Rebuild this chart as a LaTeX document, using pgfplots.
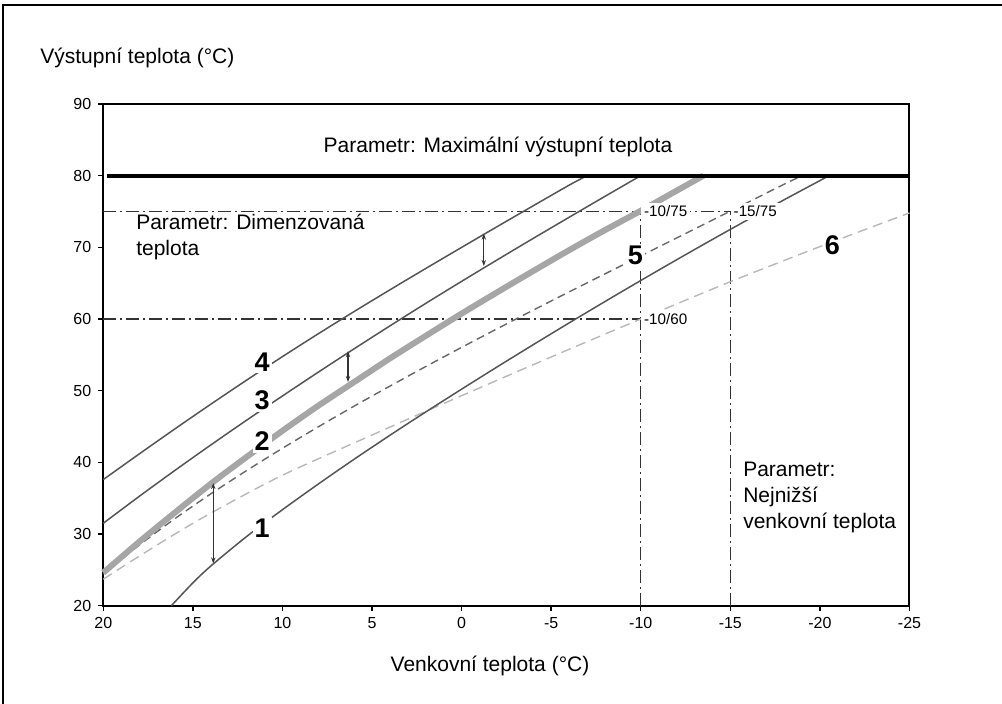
\documentclass[border=0pt]{standalone}
\usepackage{fontspec}
\setmainfont{Liberation Sans}
\usepackage{pgfplots}
\pgfplotsset{compat=1.18}
\usetikzlibrary{arrows.meta}
\definecolor{cSolid}{HTML}{555555}
\definecolor{cThick}{HTML}{A6A6A6}
\definecolor{cDashDark}{HTML}{666666}
\definecolor{cDashLight}{HTML}{B8B8B8}
\definecolor{cRef}{HTML}{333333}
\tikzset{
  refl/.style={cRef, line width=0.65pt, dash pattern=on 6.5pt off 2pt on 1pt off 2pt},
  numlab/.style={font=\fontsize{13.5}{15}\selectfont\bfseries, fill=white, inner sep=1pt},
  parlab/.style={font=\fontsize{10.5}{12}\selectfont, anchor=base west, inner sep=0pt},
  smalllab/.style={font=\fontsize{7.6}{9}\selectfont, fill=white, anchor=west, inner sep=1.5pt},
  dbl/.style={cRef, line width=0.6pt, {Stealth[length=3pt,width=2.2pt]}-{Stealth[length=3pt,width=2.2pt]}},
}
\begin{document}
\begin{tikzpicture}[x=1pt,y=1pt]
\useasboundingbox (0,0) rectangle (501,352);
\draw[line width=0.8pt] (1.5,0) -- (1.5,349.5) -- (501,349.5);
\node[anchor=base west,font=\fontsize{10.5}{12}\selectfont,inner sep=0pt] at (20,320) {Výstupní teplota (°C)};
\node[anchor=base,font=\fontsize{10.5}{12}\selectfont,inner sep=0pt] at (245,16.2) {Venkovní teplota (°C)};
\begin{axis}[
  at={(51.65pt,49.15pt)}, anchor=south west,
  scale only axis, width=403.1pt, height=250.85pt,
  x dir=reverse, xmin=-25, xmax=20, ymin=20, ymax=90,
  xtick={20,15,10,5,0,-5,-10,-15,-20,-25},
  xticklabels={20,15,10,5,0,-5,-10,-15,-20,-25},
  ytick={20,30,40,50,60,70,80,90},
  yticklabels={20,30,40,50,60,70,80,90},
  tick align=outside, major tick length=2.5pt, tick pos=left,
  axis line style={line width=1pt},
  tick style={line width=0.7pt, black},
  tick label style={font=\fontsize{8}{9.5}\selectfont},
  /pgf/number format/assume math mode=true,
  clip=false,
]
% reference lines
\addplot[refl] coordinates {(20,75) (-15,75)};
\addplot[refl] coordinates {(20,60) (-10,60)};
\addplot[refl] coordinates {(-10,20) (-10,75)};
\addplot[refl] coordinates {(-15,20) (-15,75)};
% curve 6 (light dashed)
\addplot[cDashLight, line width=0.7pt, dash pattern=on 5pt off 3pt, smooth] coordinates {
(20,23.7) (18,26.9) (16,30.0) (13.86,33.1) (10,38.2) (4.56,44.3) (0,49.3) (-5,54.7) (-10,60) (-15,65.2) (-20,70.1) (-25,74.8)};
% curve 5 (dark dashed)
\addplot[cDashDark, line width=0.7pt, dash pattern=on 4pt off 2.5pt, smooth] coordinates {
(20,24.4) (18,28.43) (16,32.15) (14,35.6) (12,38.85) (10,41.96) (8,44.95) (6,47.84) (4,50.64) (2,53.37) (0,56.04) (-2,58.66) (-4,61.24) (-6,63.78) (-8,66.29) (-10,68.8) (-12,71.3) (-14,73.8) (-16,76.3) (-18,78.8) (-19,80)};
% curve 1
\addplot[cSolid, line width=0.75pt, smooth] coordinates {
(16.2,20) (15,23.18) (14,25.53) (12,29.65) (10,33.39) (8,36.97) (6,40.43) (4,43.78) (2,47.03) (0,50.21) (-2,53.34) (-4,56.42) (-6,59.45) (-8,62.43) (-10,65.37) (-12,68.26) (-14,71.1) (-16,73.89) (-18,76.63) (-20,79.31) (-20.5,80)};
% curve 3
\addplot[cSolid, line width=0.75pt, smooth] coordinates {
(20,31.5) (18,35.24) (16,38.88) (14,42.42) (12,45.88) (10,49.26) (8,52.58) (6,55.84) (4,59.04) (2,62.18) (0,65.25) (-2,68.27) (-4,71.25) (-6,74.19) (-8,77.11) (-10,80)};
% curve 4
\addplot[cSolid, line width=0.75pt, smooth] coordinates {
(20,37.6) (18,41.16) (16,44.67) (14,48.11) (12,51.47) (10,54.75) (8,57.94) (6,61.04) (4,64.07) (2,67.05) (0,69.99) (-2,72.91) (-4,75.8) (-6,78.67) (-7,80)};
% curve 2 (thick light gray)
\addplot[cThick, line width=3pt, smooth] coordinates {
(20,24.6) (18,28.9) (16,33.0) (14,37.0) (12,40.75) (10,44.4) (8,47.9) (6,51.2) (4,54.5) (2,57.65) (0,60.75) (-2,63.75) (-4,66.7) (-6,69.6) (-8,72.4) (-10,75.1) (-12,77.9) (-13.5,80)};
% max line
\addplot[black, line width=2pt] coordinates {(19.8,80) (-25,80)};
% arrows
\addplot[dbl] coordinates {(-1.24,71.9) (-1.24,67.4)};
\addplot[dbl] coordinates {(6.34,55.5) (6.34,51.2)};
\addplot[dbl] coordinates {(13.86,37.1) (13.86,25.9)};
% labels
\node[smalllab] at (axis cs:-10,75) {-10/75};
\node[smalllab] at (axis cs:-15,75) {-15/75};
\node[smalllab] at (axis cs:-10,60) {-10/60};
\node[numlab] at (axis cs:11.13,54.0) {4};
\node[numlab] at (axis cs:11.13,48.7) {3};
\node[numlab] at (axis cs:11.13,42.9) {2};
\node[numlab] at (axis cs:11.13,30.8) {1};
\node[numlab] at (axis cs:-9.7,68.9) {5};
\node[numlab] at (axis cs:-20.7,70.3) {6};
\node[font=\fontsize{10.5}{12}\selectfont, anchor=base, inner sep=0pt] at (axis cs:-2.03,83.3) {Parametr: Maximální výstupní teplota};
\node[parlab] at (axis cs:18.18,72.5) {Parametr: Dimenzovaná};
\node[parlab] at (axis cs:18.18,68.9) {teplota};
\node[parlab] at (axis cs:-15.7,38.0) {Parametr:};
\node[parlab] at (axis cs:-15.7,34.4) {Nejnižší};
\node[parlab] at (axis cs:-15.7,30.7) {venkovní teplota};
\end{axis}
\end{tikzpicture}
\end{document}
